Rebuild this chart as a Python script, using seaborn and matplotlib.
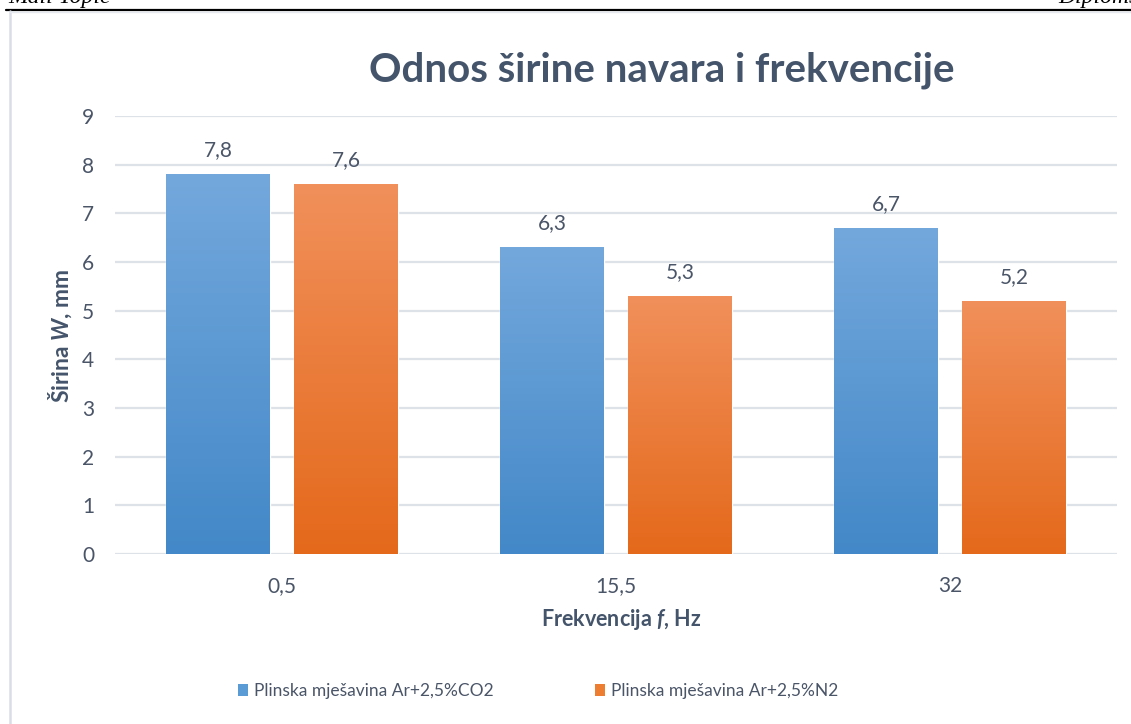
import numpy as np
import pandas as pd
import matplotlib
matplotlib.use("Agg")
import matplotlib.pyplot as plt
import seaborn as sns
from matplotlib.patches import Patch
from matplotlib.lines import Line2D
from matplotlib.colors import LinearSegmentedColormap, to_hex

# --- data -------------------------------------------------------------
frequencies = ["0,5", "15,5", "32"]
series_names = ["Plinska mješavina Ar+2,5%CO2", "Plinska mješavina Ar+2,5%N2"]
width_co2 = [7.8, 6.3, 6.7]
width_n2 = [7.6, 5.3, 5.2]
y_ticks = list(range(0, 10))

df = pd.DataFrame({
    "freq": frequencies * 2,
    "gas": [series_names[0]] * len(frequencies) + [series_names[1]] * len(frequencies),
    "width": width_co2 + width_n2,
})

# --- style ------------------------------------------------------------
sns.set_theme(style="white")
plt.rcParams["font.family"] = ["Lato", "DejaVu Sans"]
plt.rcParams["mathtext.fontset"] = "custom"
plt.rcParams["mathtext.rm"] = "Lato"
plt.rcParams["mathtext.bf"] = "Lato:bold"
plt.rcParams["mathtext.it"] = "Lato:italic"
plt.rcParams["mathtext.bfit"] = "Lato:bold:italic"

TEXT = "#44546A"
TICK = "#4a5568"
GRID = "#dde1e8"
base_colors = {series_names[0]: "#5b9bd5", series_names[1]: "#ed7d31"}
gradients = {
    series_names[0]: ("#4388c8", "#73a8dc"),
    series_names[1]: ("#e4691b", "#f1905b"),
}

W, H = 1131, 724
fig = plt.figure(figsize=(W / 100, H / 100), dpi=100)
ax = fig.add_axes([115 / W, 1 - 554 / H, (1117 - 115) / W, (554 - 116) / H])

sns.barplot(data=df, x="freq", y="width", hue="gas", order=frequencies,
            hue_order=series_names, palette=base_colors, saturation=1,
            width=0.766, gap=0.188, errorbar=None, legend=False, ax=ax)

# vertical gradient fill inside every bar
color_to_series = {to_hex(c): s for s, c in base_colors.items()}
grad = np.linspace(0, 1, 256)[:, None]
for patch in list(ax.patches):
    series = color_to_series.get(to_hex(patch.get_facecolor()))
    if series is None:
        continue
    bottom, top = gradients[series]
    cmap = LinearSegmentedColormap.from_list("g", [bottom, top])
    x0, y0 = patch.get_x(), patch.get_y()
    w, h = patch.get_width(), patch.get_height()
    im = ax.imshow(grad, extent=[x0, x0 + w, y0, y0 + h], origin="lower",
                   cmap=cmap, aspect="auto", zorder=patch.get_zorder() + 0.1,
                   interpolation="bilinear")
    im.set_clip_path(patch)

ax.set_xlim(-0.5, len(frequencies) - 0.5)
ax.set_ylim(0, 9)
ax.set_yticks(y_ticks)
ax.yaxis.grid(True, color=GRID, linewidth=1.6)
ax.set_axisbelow(True)
for side in ax.spines.values():
    side.set_visible(False)
ax.tick_params(axis="both", length=0, labelsize=15, colors=TICK)
ax.tick_params(axis="y", pad=15)
ax.tick_params(axis="x", pad=16)
ax.set_xlabel("")
ax.set_ylabel("")

# value labels above bars
for cont in ax.containers:
    ax.bar_label(cont, labels=[f"{v:.1f}".replace(".", ",") for v in cont.datavalues],
                 padding=10, fontsize=15, color=TICK)

# titles
fig.text(662 / W, 1 - 70 / H, "Odnos širine navara i frekvencije",
         ha="center", va="center", fontsize=29, fontweight="bold", color=TEXT)
fig.text(621 / W, 1 - 620 / H, r"Frekvencija $\mathbfit{f}$, Hz",
         ha="center", va="center", fontsize=15.5, fontweight="bold", color=TEXT)
fig.text(60 / W, 1 - 336 / H, r"Širina $\mathbfit{W}$, mm", rotation=90,
         ha="center", va="center", fontsize=16.5, fontweight="bold", color=TEXT)

# legend
handles = [Patch(facecolor=base_colors[s], edgecolor="none") for s in series_names]
fig.legend(handles, series_names, loc="center", bbox_to_anchor=(538 / W, 1 - 691 / H),
           ncol=2, frameon=False, fontsize=12.5, handlelength=0.6, handleheight=0.72,
           handletextpad=0.35, columnspacing=5.8, labelcolor=TICK)

# page header and chart frame
fig.add_artist(Line2D([6 / W, 1], [1 - 9.5 / H] * 2, color="black", lw=1.6))
fig.add_artist(Line2D([10 / W, 10 / W], [1 - 11 / H, 0], color="#d9dde6", lw=1.8))
fig.add_artist(Line2D([10 / W, 1], [1 - 11.5 / H] * 2, color="#e6e9ef", lw=1.0))
fig.text(8 / W, 1 - 3 / H, "Mali Topić", family="Liberation Serif", style="italic",
         fontsize=17, va="baseline", color="black")
fig.text(1058 / W, 1 - 3 / H, "Diplomski rad", family="Liberation Serif", style="italic",
         fontsize=17, va="baseline", color="black")

fig.savefig("out.png", dpi=100)
